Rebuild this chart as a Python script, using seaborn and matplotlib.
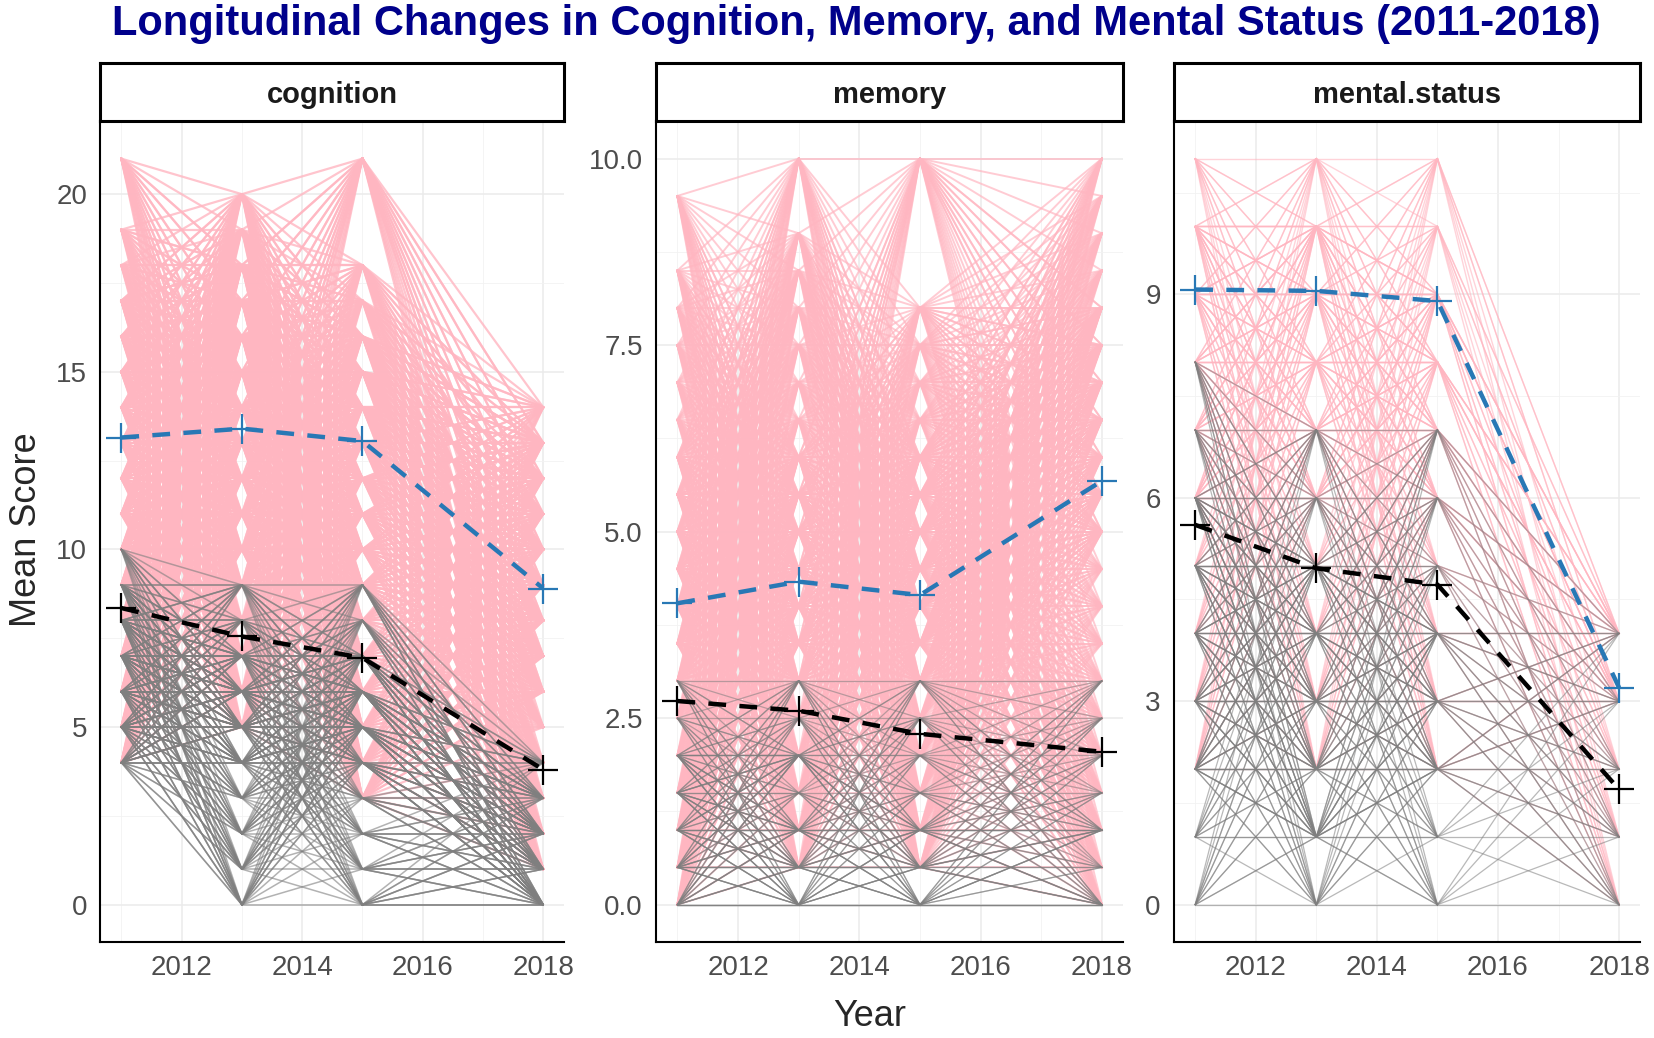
import numpy as np
import pandas as pd
import seaborn as sns
import matplotlib.pyplot as plt
from matplotlib.ticker import MultipleLocator

# waves and panels
years = [2011, 2013, 2015, 2018]
panels = ["cognition", "memory", "mental.status"]

# score levels seen at each wave (one list per wave)
cog_pink = [
    [4, 5, 6, 7, 8, 8, 9, 9, 10, 10, 11, 11, 12, 12, 13, 13, 14, 14, 15, 15, 16, 16, 17, 17, 18, 19, 21],
    [5, 6, 7, 8, 9, 9, 10, 10, 11, 11, 12, 12, 13, 13, 14, 14, 15, 15, 16, 16, 17, 17, 18, 18, 19, 20],
    [3, 4, 5, 6, 7, 8, 9, 9, 10, 10, 11, 11, 12, 12, 13, 13, 14, 14, 15, 15, 16, 16, 17, 18, 21],
    [1, 2, 3, 4, 5, 6, 6, 7, 7, 8, 8, 9, 9, 10, 10, 11, 11, 12, 12, 13, 13, 14],
]
cog_grey = [
    [4, 4, 5, 5, 5, 6, 6, 6, 7, 7, 7, 8, 8, 8, 9, 9, 10],
    [0, 1, 2, 3, 4, 4, 5, 5, 5, 6, 6, 6, 7, 7, 8, 9],
    [0, 1, 2, 3, 4, 4, 5, 5, 5, 6, 6, 6, 7, 7, 8, 9],
    [0, 0, 0, 1, 1, 1, 2, 2, 2, 3, 3, 4],
]
mem_pink = [
    [0, 0.5, 1, 1.5, 2, 2.5, 3, 3, 3.5, 3.5, 4, 4, 4.5, 4.5, 5, 5, 5.5, 5.5, 6, 6, 6.5, 7, 7.5, 8, 8.5, 9.5],
    [0.5, 1, 1.5, 2, 2.5, 3, 3, 3.5, 3.5, 4, 4, 4.5, 4.5, 5, 5, 5.5, 5.5, 6, 6, 6.5, 7, 7.5, 8, 8.5, 9, 10],
    [0.5, 1, 1.5, 2, 2.5, 3, 3, 3.5, 3.5, 4, 4, 4.5, 4.5, 5, 5, 5.5, 5.5, 6, 6, 6.5, 7, 7.5, 8, 10],
    [0, 0.5, 1, 1.5, 2, 2.5, 3, 3.5, 4, 4.5, 5, 5, 5.5, 5.5, 6, 6, 6.5, 6.5, 7, 7, 7.5, 7.5, 8, 8, 8.5, 9, 9.5, 10],
]
mem_grey = [
    [0, 0, 0.5, 0.5, 1, 1, 1.5, 1.5, 2, 2, 2.5, 3],
    [0, 0, 0.5, 0.5, 1, 1, 1.5, 2, 2, 2.5, 3],
    [0, 0, 0.5, 0.5, 1, 1, 1.5, 2, 2.5, 3],
    [0, 0, 0.5, 1, 1, 1.5, 2, 2.5, 3],
]
ms_pink = [
    [2, 3, 4, 5, 6, 6, 7, 7, 8, 8, 9, 9, 10, 10, 11],
    [2, 3, 4, 5, 6, 6, 7, 7, 8, 8, 9, 9, 10, 10, 11],
    [2, 3, 4, 5, 6, 6, 7, 7, 8, 8, 9, 9, 10, 11],
    [0, 1, 2, 3, 3, 4, 4],
]
ms_grey = [
    [0, 1, 2, 2, 3, 3, 4, 4, 5, 5, 6, 6, 7, 8],
    [0, 1, 1, 2, 2, 3, 3, 4, 4, 5, 5, 6, 7],
    [0, 1, 2, 2, 3, 3, 4, 4, 5, 6, 7],
    [0, 1, 2, 3, 4],
]

# group means per wave
cog_mean_pink = [13.15, 13.4, 13.05, 8.9]
cog_mean_grey = [8.35, 7.55, 6.95, 3.8]
mem_mean_pink = [4.04, 4.33, 4.15, 5.68]
mem_mean_grey = [2.73, 2.6, 2.29, 2.05]
ms_mean_pink = [9.07, 9.05, 8.9, 3.2]
ms_mean_grey = [5.6, 4.96, 4.72, 1.7]

# axis setup per panel
y_limits = [(-1.05, 22.05), (-0.5, 10.5), (-0.55, 11.55)]
y_major = [5, 2.5, 3]
y_fmt = ["{:.0f}", "{:.1f}", "{:.0f}"]
pink_lw = [1.6, 1.4, 1.0]
pink_alpha = [0.8, 0.7, 0.6]
grey_lw = [1.1, 0.9, 0.9]
grey_alpha = [0.6, 0.55, 0.55]

PINK = "#FFB6C1"
GREY = "#7F7F7F"
BLUE = "#2878B5"


def segments(levels):
    # one short line per pair of levels at two neighbouring waves
    rows = []
    sid = 0
    for i in range(len(years) - 1):
        for a in levels[i]:
            for b in levels[i + 1]:
                rows.append((sid, years[i], a))
                rows.append((sid, years[i + 1], b))
                sid += 1
    return pd.DataFrame(rows, columns=["seg", "year", "score"])


sns.set_style("white")
plt.rcParams["font.family"] = ["Liberation Sans", "DejaVu Sans"]

fig = plt.figure(figsize=(16.54, 10.38), dpi=100)

lefts = [0.0606, 0.3967, 0.7098]
rights = [0.3412, 0.6790, 0.9917]
bottom, top = 0.0925, 0.8831
strip_h = 0.056

data = [
    (cog_pink, cog_grey, cog_mean_pink, cog_mean_grey),
    (mem_pink, mem_grey, mem_mean_pink, mem_mean_grey),
    (ms_pink, ms_grey, ms_mean_pink, ms_mean_grey),
]

for k, name in enumerate(panels):
    pink, grey, m_pink, m_grey = data[k]
    ax = fig.add_axes([lefts[k], bottom, rights[k] - lefts[k], top - bottom])

    sns.lineplot(data=segments(pink), x="year", y="score", units="seg",
                 estimator=None, color=PINK, lw=pink_lw[k], alpha=pink_alpha[k], ax=ax)
    sns.lineplot(data=segments(grey), x="year", y="score", units="seg",
                 estimator=None, color=GREY, lw=grey_lw[k], alpha=grey_alpha[k], ax=ax)

    sns.lineplot(x=years, y=m_pink, color=BLUE, lw=3.2, linestyle=(0, (4, 3)),
                 marker="+", markersize=22, markeredgewidth=1.6,
                 markeredgecolor=BLUE, ax=ax)
    sns.lineplot(x=years, y=m_grey, color="black", lw=3.2, linestyle=(0, (4, 3)),
                 marker="+", markersize=22, markeredgewidth=1.6,
                 markeredgecolor="black", ax=ax)

    ax.set_xlim(2010.65, 2018.35)
    ax.set_ylim(*y_limits[k])
    ax.set_xticks([2012, 2014, 2016, 2018])
    ax.xaxis.set_minor_locator(MultipleLocator(1))
    ax.yaxis.set_major_locator(MultipleLocator(y_major[k]))
    ax.yaxis.set_minor_locator(MultipleLocator(y_major[k] / 2))
    ticks = [t for t in ax.get_yticks() if 0 <= t <= y_limits[k][1]]
    ax.set_yticks(ticks)
    ax.set_yticklabels([y_fmt[k].format(t) for t in ticks])
    ax.set_ylim(*y_limits[k])

    ax.set_axisbelow(True)
    ax.grid(which="major", color="#EBEBEB", lw=1.1)
    ax.grid(which="minor", color="#F2F2F2", lw=0.6)
    ax.set_xlabel("")
    ax.set_ylabel("")
    for s in ["top", "right"]:
        ax.spines[s].set_visible(False)
    for s in ["left", "bottom"]:
        ax.spines[s].set_color("black")
        ax.spines[s].set_linewidth(1.5)
    ax.tick_params(which="major", length=6, width=1.2, color="#333333",
                   labelsize=20, labelcolor="#4D4D4D")
    ax.tick_params(which="minor", length=0)

    # facet strip
    sax = fig.add_axes([lefts[k], top, rights[k] - lefts[k], strip_h])
    sax.set_xticks([])
    sax.set_yticks([])
    for s in sax.spines.values():
        s.set_visible(True)
        s.set_color("black")
        s.set_linewidth(2.2)
    sax.text(0.5, 0.45, name, ha="center", va="center", fontsize=21,
             fontweight="bold", color="#1A1A1A", transform=sax.transAxes)

fig.text(0.518, 0.977, "Longitudinal Changes in Cognition, Memory, and Mental Status (2011-2018)",
         ha="center", va="center", fontsize=30, fontweight="bold", color="#00008B")
fig.text(0.016, 0.49, "Mean Score", rotation=90, ha="center", va="center", fontsize=26)
fig.text(0.526, 0.021, "Year", ha="center", va="center", fontsize=26)

fig.savefig("out.png", dpi=100)
